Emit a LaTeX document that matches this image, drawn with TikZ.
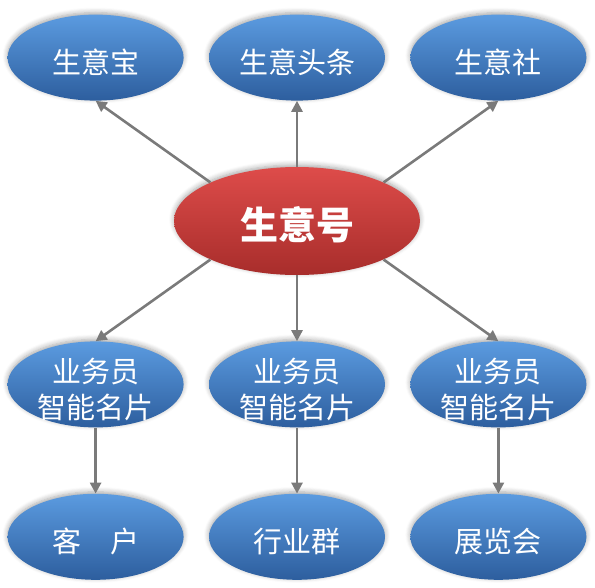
\documentclass[tikz,border=0pt]{standalone}
\usepackage{fontspec}
\newfontfamily\cjk{Noto Sans CJK SC}
\usepackage{xcolor}
\definecolor{cBlueTop}{HTML}{5B9BE0}
\definecolor{cBlueMid}{HTML}{3F7CC8}
\definecolor{cBlueBot}{HTML}{2D5E9E}
\definecolor{cRedTop}{HTML}{DE4C4A}
\definecolor{cRedMid}{HTML}{CF3E3C}
\definecolor{cRedBot}{HTML}{A82D2B}
\definecolor{cGray}{HTML}{7A7A7A}
\usepackage{tikz}
\usetikzlibrary{positioning,arrows.meta,shapes.geometric,shadows.blur}
\tikzset{
  node-ell/.style={ellipse,inner sep=0pt,
    blur shadow={shadow xshift=0pt,shadow yshift=2pt,shadow blur steps=6,
      shadow blur radius=5pt,shadow opacity=35}},
  node-blue/.style={node-ell,minimum width=176pt,minimum height=86pt,
    top color=cBlueTop,middle color=cBlueMid,bottom color=cBlueBot},
  node-red/.style={node-ell,minimum width=246pt,minimum height=108pt,
    top color=cRedTop,middle color=cRedMid,bottom color=cRedBot},
  node-text/.style={text=white,align=center,inner sep=0pt,yshift=-5pt,
    font=\cjk\fontsize{29pt}{36pt}\selectfont},
  node-title/.style={text=white,align=center,inner sep=0pt,yshift=-4pt,
    font=\cjk\bfseries\fontsize{38pt}{42pt}\selectfont},
  arrow/.style={-{Triangle[length=11pt,width=11pt]},line width=2.6pt,draw=cGray},
}
\begin{document}
\begin{tikzpicture}[x=1pt,y=1pt,node distance=66pt and 25pt]
  \useasboundingbox (0,0) rectangle (595,-587);
  \node[node-red,label={[node-title]center:生意号}] (hub) at (297,-221) {};
  % top row
  \node[node-blue,above=of hub,label={[node-text]center:生意头条}] (news) {};
  \node[node-blue,left=of news,label={[node-text]center:生意宝}]   (bao)  {};
  \node[node-blue,right=of news,label={[node-text]center:生意社}]  (she)  {};
  % cards
  \node[node-blue,below=of hub,label={[node-text]center:业务员\\智能名片}] (card2) {};
  \node[node-blue,left=of card2,label={[node-text]center:业务员\\智能名片}] (card1) {};
  \node[node-blue,right=of card2,label={[node-text]center:业务员\\智能名片}] (card3) {};
  % bottom row
  \node[node-blue,below=of card1,label={[node-text]center:客　户}]  (cust)  {};
  \node[node-blue,below=of card2,label={[node-text]center:行业群}]  (group) {};
  \node[node-blue,below=of card3,label={[node-text]center:展览会}]  (expo)  {};
  \draw[arrow] (hub.156) -- (bao.south);
  \draw[arrow] (hub.north) -- (news.south);
  \draw[arrow] (hub.24) -- (she.south);
  \draw[arrow] (hub.204) -- (card1.north);
  \draw[arrow] (hub.south) -- (card2.north);
  \draw[arrow] (hub.336) -- (card3.north);
  \draw[arrow] (card1) -- (cust);
  \draw[arrow] (card2) -- (group);
  \draw[arrow] (card3) -- (expo);
\end{tikzpicture}
\end{document}
